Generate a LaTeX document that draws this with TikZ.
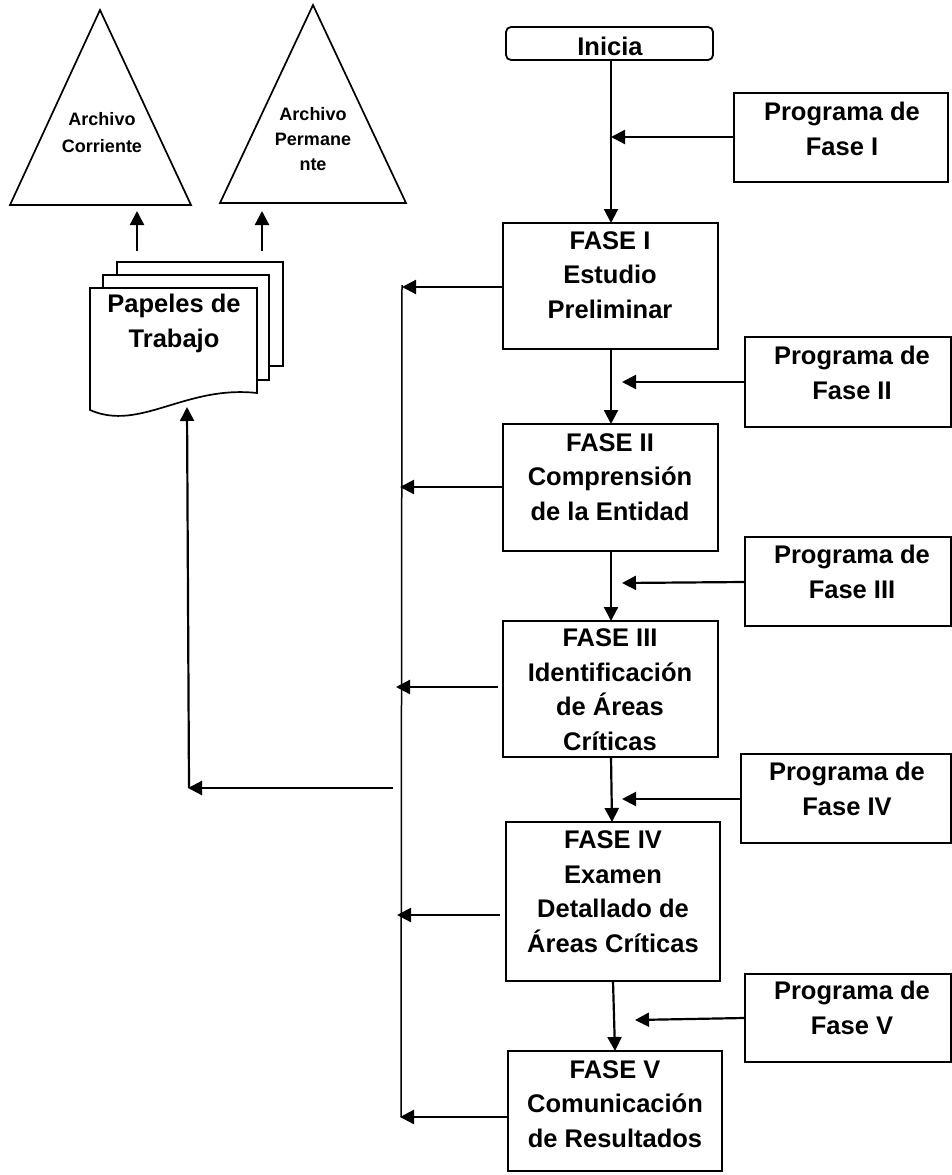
\documentclass[tikz,border=0pt]{standalone}
\usepackage{fontspec}
\setmainfont{Liberation Sans}
\usetikzlibrary{arrows.meta}

\begin{document}
\begin{tikzpicture}[x=1pt,y=-1pt,
  box/.style={draw, line width=1.8pt, rectangle, inner sep=0pt},
  % text is placed by the baseline of its last line
  lbl/.style={font=\bfseries\fontsize{25.5}{34.5}\selectfont, align=center,
              inner sep=0pt, anchor=base},
  smalllbl/.style={font=\bfseries\fontsize{18}{27}\selectfont, align=center,
              inner sep=0pt, anchor=base},
  outline/.style={line width=1.7pt},
  flow/.style={line width=2.2pt, -{Triangle[length=14pt,width=14pt]}},
  bus/.style={line width=1.5pt},
]
\useasboundingbox (0,0) rectangle (952,1175);

% ---------- archive triangles ----------
\draw[outline] (100,10) -- (191,205) -- (10,205) -- cycle;
\draw[outline] (313,5) -- (406,203) -- (220,203) -- cycle;
\node[smalllbl] (tcorr) at (102,152) {Archivo\\Corriente};
\node[smalllbl, font=\bfseries\fontsize{18}{25}\selectfont] (tperm) at (313,170) {Archivo\\Permane\\nte};
\coordinate (tcb) at (137,211);
\coordinate (tpb) at (262,211);

% ---------- working papers (multi-document) ----------
\draw[outline, fill=white] (117,262) rectangle (283,366);
\draw[outline, fill=white] (103,275) rectangle (269,380);
\draw[outline, fill=white] (90,288) -- (257,288) -- (257,393)
   .. controls (185,385) and (140,432) .. (90,410) -- cycle;
\node[lbl] (pap) at (174,347) {Papeles de\\Trabajo};
\coordinate (papbot) at (187,407);
\coordinate (papl) at (137,251);
\coordinate (papr) at (262,251);
\draw[flow] (papl) -- (tcb);
\draw[flow] (papr) -- (tpb);

% ---------- main column ----------
\node[box, rounded corners=5pt, minimum width=207pt, minimum height=33pt] (ini) at (609.5,43.5) {};
\node[lbl] (initxt) at (610,55) {Inicia};

\node[box, minimum width=215pt, minimum height=126pt] (f1) at (610.5,286) {};
\node[lbl] (f1t) at (610,318) {FASE I\\Estudio\\Preliminar};

\node[box, minimum width=215pt, minimum height=127pt] (f2) at (610.5,487.5) {};
\node[lbl] (f2t) at (610,520) {FASE II\\Comprensión\\de la Entidad};

\node[box, minimum width=215pt, minimum height=136pt] (f3) at (610.5,689) {};
\node[lbl] (f3t) at (610,750) {FASE III\\Identificación\\de Áreas\\Críticas};

\node[box, minimum width=214pt, minimum height=159pt] (f4) at (613,901.5) {};
\node[lbl] (f4t) at (613,952) {FASE IV\\Examen\\Detallado de\\Áreas Críticas};

\node[box, minimum width=214pt, minimum height=120pt] (f5) at (615,1111) {};
\node[lbl] (f5t) at (615,1147) {FASE V\\Comunicación\\de Resultados};

% ---------- phase programmes ----------
\node[box, minimum width=214pt, minimum height=89pt] (p1) at (841,137.5) {};
\node[lbl] (p1t) at (842,155) {Programa de\\Fase I};

\node[box, minimum width=206pt, minimum height=90pt] (p2) at (848,382) {};
\node[lbl] (p2t) at (852,399) {Programa de\\Fase II};

\node[box, minimum width=206pt, minimum height=89pt] (p3) at (848,581.5) {};
\node[lbl] (p3t) at (852,598) {Programa de\\Fase III};

\node[box, minimum width=210pt, minimum height=89pt] (p4) at (846,798.5) {};
\node[lbl] (p4t) at (847,815) {Programa de\\Fase IV};

\node[box, minimum width=206pt, minimum height=88pt] (p5) at (848,1018) {};
\node[lbl] (p5t) at (852,1034) {Programa de\\Fase V};

% ---------- sequence of phases ----------
\draw[flow] (ini.south -| 611,0) -- (611,223) coordinate (f1in);
\draw[flow] (611,349) coordinate (f1out) -- (611,424) coordinate (f2in);
\draw[flow] (611,551) coordinate (f2out) -- (611,621) coordinate (f3in);
\draw[flow] (611,757) coordinate (f3out) -- (612,822) coordinate (f4in);
\draw[flow] (613,981) coordinate (f4out) -- (615,1051) coordinate (f5in);

% programmes feed into the sequence
\coordinate (j1) at (611,137);
\coordinate (j2) at (622,382);
\coordinate (j3) at (622,583);
\coordinate (j4) at (622,799);
\coordinate (j5) at (635,1020);
\draw[flow] (p1.west |- 0,137) -- (j1);
\draw[flow] (p2.west |- 0,382) -- (j2);
\draw[flow] (p3.west |- 0,582) -- (j3);
\draw[flow] (p4.west |- 0,799) -- (j4);
\draw[flow] (p5.west |- 0,1018) -- (j5);

% ---------- collecting line on the left ----------
\coordinate (b1) at (402,287);
\coordinate (b2) at (400,487);
\coordinate (b3) at (396,687);
\coordinate (b4) at (397,915);
\coordinate (b5) at (400,1117);
\draw[bus] (402,285) coordinate (bustop) -- (401,1117) coordinate (busbot);
\draw[flow] (f1.west |- 0,287) -- (b1);
\draw[flow] (f2.west |- 0,487) -- (b2);
\draw[flow] (498,687) -- (b3);
\draw[flow] (500,915) -- (b4);
\draw[flow] (f5.west |- 0,1117) -- (b5);

% back to the working papers
\coordinate (busout) at (393,788);
\coordinate (corner) at (188,788);
\draw[flow] (busout) -- (corner);
\draw[flow] (189,788) -- (papbot);

\end{tikzpicture}
\end{document}
